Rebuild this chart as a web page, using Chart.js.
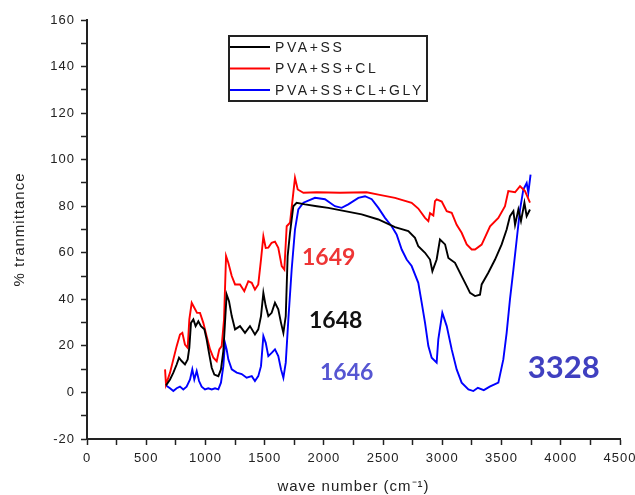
<!DOCTYPE html>
<html>
<head>
<meta charset="utf-8">
<script src="https://cdn.jsdelivr.net/npm/chart.js@4.4.1/dist/chart.umd.min.js"></script>
<style>
  body { margin: 0; background: #fff; }
  #wrap { width: 635px; height: 495px; }
</style>
</head>
<body>
<div id="wrap"><canvas id="ftirChart" width="635" height="495"></canvas></div>
<script>
// FTIR spectra of the three films
const seriesNames = ['PVA+SS', 'PVA+SS+CL', 'PVA+SS+CL+GLY'];
const seriesColors = ['#000000', '#ff0000', '#0000ff'];

// PVA+SS
const pvaSsWave = [667, 701, 729, 757, 777, 799, 827, 850, 864, 878, 898, 917, 940, 962, 991, 1010, 1030, 1053, 1075, 1109,
  1131, 1151, 1165, 1179, 1199, 1222, 1250, 1292, 1334, 1376, 1418, 1446, 1469, 1489, 1509, 1531, 1559, 1587, 1615, 1638,
  1658, 1678, 1694, 1714, 1742, 1770, 1841, 1940, 2037, 2178, 2319, 2460, 2600, 2713, 2769, 2797, 2854, 2896, 2916, 2952,
  2980, 3023, 3051, 3107, 3163, 3206, 3234, 3276, 3318, 3332, 3388, 3445, 3501, 3543, 3571, 3600, 3614, 3642, 3664, 3693,
  3712, 3740];
const pvaSsTrans = [3.0, 5.6, 8.5, 12.0, 14.9, 13.5, 12.0, 14.2, 19.2, 29.9, 31.4, 28.5, 30.6, 28.5, 27.1, 22.8, 17.0, 10.6, 7.7, 7.0,
  9.9, 17.7, 29.9, 42.1, 39.2, 32.8, 27.1, 28.5, 25.6, 28.5, 24.9, 27.1, 32.8, 42.8, 37.1, 32.8, 34.2, 38.5, 35.7, 29.9,
  25.6, 32.8, 58.6, 68.6, 80.0, 81.5, 80.8, 80.0, 79.3, 77.9, 76.5, 74.3, 71.0, 69.3, 66.4, 62.8, 60.0, 57.1, 52.1, 57.1,
  65.7, 63.6, 57.8, 55.7, 50.0, 45.7, 42.8, 41.4, 42.0, 46.4, 51.4, 57.1, 63.6, 70.0, 75.7, 77.9, 72.0, 78.6, 73.6, 81.5,
  75.7, 78.6];

// PVA+SS+CL
const pvaSsClWave = [659, 667, 701, 729, 757, 785, 805, 827, 850, 864, 884, 906, 929, 954, 982, 1010, 1039, 1067, 1095, 1117,
  1137, 1157, 1174, 1193, 1222, 1250, 1292, 1328, 1362, 1391, 1418, 1446, 1469, 1489, 1509, 1531, 1559, 1587, 1615, 1644,
  1666, 1686, 1714, 1742, 1756, 1779, 1827, 1940, 2136, 2361, 2460, 2600, 2741, 2797, 2854, 2882, 2896, 2924, 2938, 2952,
  2995, 3037, 3079, 3121, 3163, 3206, 3248, 3276, 3332, 3403, 3473, 3529, 3557, 3614, 3656, 3698, 3740];
const pvaSsClTrans = [9.9, 3.4, 8.5, 14.2, 19.9, 24.9, 25.6, 20.6, 19.2, 31.4, 38.5, 36.4, 34.2, 34.2, 29.9, 24.2, 18.5, 14.9, 13.4, 18.5,
  19.9, 31.4, 58.6, 55.7, 50.0, 46.4, 46.4, 43.5, 47.8, 47.1, 44.2, 46.4, 57.1, 67.1, 62.1, 62.2, 64.3, 64.8, 62.1, 54.3,
  52.8, 71.4, 72.9, 85.8, 92.2, 87.2, 85.8, 86.0, 85.8, 86.0, 85.0, 83.6, 81.5, 79.0, 75.0, 73.6, 77.0, 76.0, 82.2, 82.9,
  82.0, 77.9, 77.2, 72.0, 68.6, 63.6, 61.4, 61.4, 63.5, 71.4, 75.0, 80.0, 86.5, 86.0, 88.6, 86.5, 81.5];

// PVA+SS+CL+GLY
const pvaSsClGlyWave = [667, 701, 729, 757, 785, 813, 841, 870, 889, 906, 926, 946, 968, 996, 1024, 1053, 1081, 1109, 1131, 1151,
  1165, 1179, 1193, 1222, 1264, 1306, 1348, 1391, 1418, 1446, 1469, 1489, 1509, 1531, 1559, 1587, 1615, 1638, 1658, 1678,
  1700, 1728, 1756, 1784, 1827, 1925, 2009, 2093, 2150, 2206, 2291, 2347, 2404, 2460, 2516, 2572, 2614, 2657, 2699, 2741,
  2797, 2826, 2854, 2882, 2910, 2952, 2966, 3000, 3037, 3079, 3121, 3163, 3220, 3262, 3300, 3350, 3400, 3473, 3515, 3543,
  3571, 3600, 3628, 3656, 3684, 3712, 3726, 3745];
const pvaSsClGlyTrans = [3.0, 1.8, 0.6, 1.8, 2.5, 1.3, 2.5, 5.6, 9.9, 5.6, 9.2, 4.9, 2.5, 1.3, 1.8, 1.3, 1.8, 1.3, 4.2, 11.3,
  21.3, 18.5, 14.2, 9.9, 8.5, 7.9, 6.3, 7.0, 4.9, 7.0, 11.3, 24.2, 21.3, 15.6, 17.0, 18.5, 15.6, 9.9, 6.3, 12.8,
  31.4, 52.8, 70.0, 78.6, 81.5, 83.6, 83.0, 80.0, 79.3, 80.8, 83.6, 84.3, 83.0, 79.3, 75.0, 71.4, 67.9, 61.4, 57.1, 54.3,
  47.1, 38.5, 29.9, 19.9, 14.9, 12.8, 22.8, 34.2, 28.5, 18.5, 9.9, 4.2, 1.3, 0.6, 2.0, 1.0, 2.5, 4.2, 14.2, 25.6,
  40.0, 52.8, 65.7, 78.6, 87.2, 90.0, 85.8, 93.6];

// peak labels (wavenumbers)
const peakLabels = ['1649', '1648', '1646', '3328'];

const waves = [pvaSsWave, pvaSsClWave, pvaSsClGlyWave];
const trans = [pvaSsTrans, pvaSsClTrans, pvaSsClGlyTrans];

const datasets = seriesNames.map((name, i) => ({
  label: name,
  data: waves[i].map((w, j) => ({ x: w, y: trans[i][j] })),
  borderColor: seriesColors[i],
  backgroundColor: seriesColors[i],
  borderWidth: 1.9,
  pointRadius: 0,
  tension: 0,
  fill: false
}));

const axisColor = '#222';
const fontFace = 'Arial, "Liberation Sans", sans-serif';

// letter spacing for all canvas text
const spacingPlugin = {
  id: 'spacing',
  beforeDraw(chart) { chart.ctx.letterSpacing = '1px'; }
};

// boxed legend inside the plot
const boxLegend = {
  id: 'boxLegend',
  afterDatasetsDraw(chart) {
    const { ctx, chartArea } = chart;
    const bx = chartArea.left + 142, by = chartArea.top + 16, bw = 198, bh = 65;
    ctx.save();
    ctx.fillStyle = '#fff';
    ctx.fillRect(bx, by, bw, bh);
    ctx.strokeStyle = axisColor;
    ctx.lineWidth = 2;
    ctx.strokeRect(bx, by, bw, bh);
    ctx.font = '14px ' + fontFace;
    ctx.letterSpacing = '2.6px';
    ctx.textBaseline = 'middle';
    chart.data.datasets.forEach((ds, i) => {
      const y = by + 11 + i * 21.5;
      ctx.strokeStyle = ds.borderColor;
      ctx.lineWidth = 1.9;
      ctx.beginPath();
      ctx.moveTo(bx + 1, y);
      ctx.lineTo(bx + 41, y);
      ctx.stroke();
      ctx.fillStyle = axisColor;
      ctx.fillText(ds.label, bx + 46, y + 1);
    });
    ctx.restore();
  }
};

// peak wavenumber labels
const peakText = {
  id: 'peakText',
  afterDatasetsDraw(chart) {
    const { ctx, scales } = chart;
    const spots = [
      { x: 1815, y: 58, color: '#ee3535', size: 23 },
      { x: 1874, y: 31, color: '#111111', size: 23 },
      { x: 1967, y: 8.6, color: '#5656d2', size: 23 },
      { x: 3722, y: 10.3, color: '#4040c0', size: 31 }
    ];
    ctx.save();
    ctx.letterSpacing = '0px';
    ctx.textBaseline = 'middle';
    ctx.textAlign = 'left';
    peakLabels.forEach((t, i) => {
      const s = spots[i];
      ctx.font = 'bold ' + s.size + 'px Lato, "Open Sans", sans-serif';
      ctx.fillStyle = s.color;
      ctx.fillText(t, scales.x.getPixelForValue(s.x), scales.y.getPixelForValue(s.y));
    });
    ctx.restore();
  }
};

new Chart(document.getElementById('ftirChart'), {
  type: 'line',
  data: { datasets },
  options: {
    responsive: false,
    animation: false,
    parsing: true,
    layout: { padding: { left: 0, top: 20, right: 15, bottom: 0 } },
    plugins: {
      legend: { display: false },
      tooltip: { enabled: false }
    },
    scales: {
      x: {
        type: 'linear',
        min: 0,
        max: 4500,
        afterFit(scale) { scale.height = 56; scale.paddingLeft = 0; scale.paddingRight = 0; },
        border: { display: true, color: axisColor, width: 2 },
        grid: { display: true, drawOnChartArea: false, drawTicks: true, tickLength: 6, tickColor: axisColor, tickWidth: 1.5 },
        ticks: {
          stepSize: 250,
          autoSkip: false,
          maxRotation: 0,
          padding: 6,
          color: axisColor,
          font: { family: fontFace, size: 13 },
          callback: v => (v % 500 === 0 ? v : '')
        },
        title: {
          display: true,
          text: 'wave number (cm\u207B\u00B9)',
          color: axisColor,
          font: { family: fontFace, size: 15, lineHeight: 1.1 },
          padding: { top: 0, bottom: 0 }
        }
      },
      y: {
        min: -20,
        max: 160,
        afterFit(scale) { scale.width = 87; },
        border: { display: true, color: axisColor, width: 2 },
        grid: { display: true, drawOnChartArea: false, drawTicks: true, tickLength: 6, tickColor: axisColor, tickWidth: 1.5 },
        ticks: {
          stepSize: 10,
          autoSkip: false,
          padding: 6,
          color: axisColor,
          font: { family: fontFace, size: 13 },
          callback: v => (v % 20 === 0 ? v : '')
        },
        title: {
          display: true,
          text: '% tranmittance',
          color: axisColor,
          font: { family: fontFace, size: 15, lineHeight: 1.1 },
          padding: { top: 12, bottom: 0 }
        }
      }
    }
  },
  plugins: [spacingPlugin, boxLegend, peakText]
});
</script>
</body>
</html>
